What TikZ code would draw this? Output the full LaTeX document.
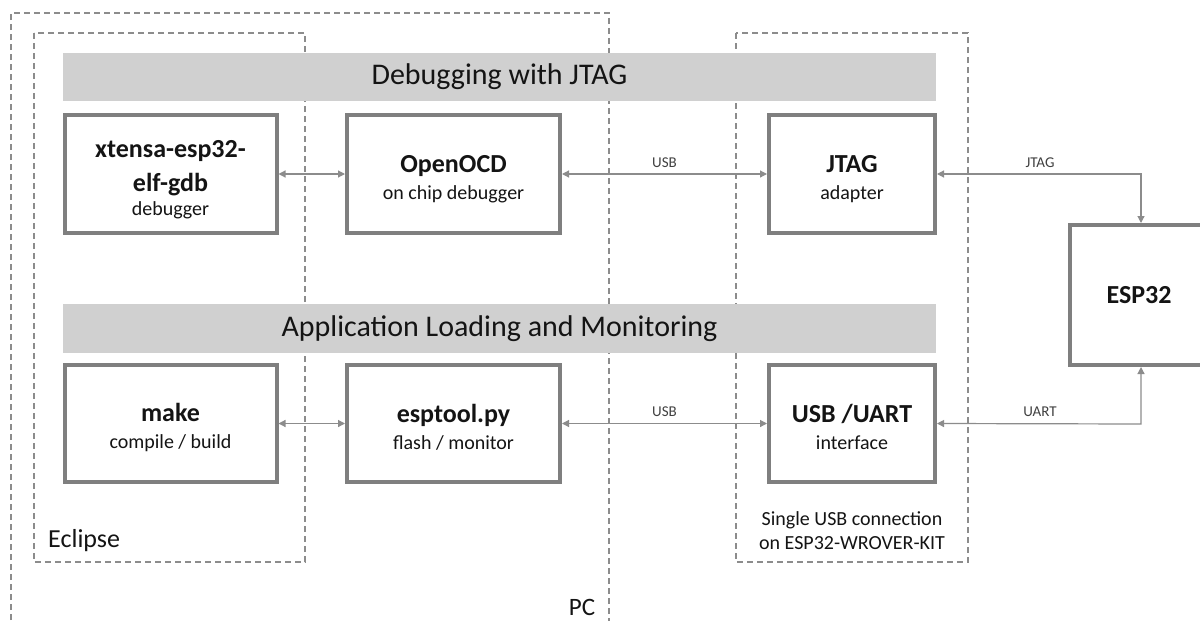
\documentclass[tikz,border=0pt]{standalone}
\usepackage{fontspec}
\setmainfont{Carlito}
\usetikzlibrary{arrows.meta}
\definecolor{boxgray}{HTML}{7F7F7F}
\definecolor{bargray}{HTML}{D0D0D0}
\definecolor{linegray}{HTML}{8C8C8C}
\definecolor{dashgray}{HTML}{8C8C8C}
\definecolor{txt}{HTML}{141414}
\definecolor{lbl}{HTML}{404040}
\newcommand{\ttl}[2][27]{{\fontsize{26}{28}\selectfont\bfseries\rule{0pt}{#1pt}#2}}
\newcommand{\ttlb}[1]{{\fontsize{26}{28}\selectfont\bfseries #1}}
\begin{document}
\begin{tikzpicture}[x=1pt,y=-1pt,
  blk/.style={draw=boxgray, line width=4pt, fill=white, inner sep=0pt,
    align=center, text=txt, font=\fontsize{20}{27}\selectfont},
  bar/.style={fill=bargray, draw=none, inner sep=0pt, text=txt,
    font=\fontsize{30}{34}\selectfont},
  grp/.style={draw=dashgray, line width=1.2pt, dash pattern=on 6pt off 4pt},
  conn/.style={draw=linegray, line width=1.2pt,
    {Triangle[length=7pt,width=7pt]}-{Triangle[length=7pt,width=7pt]}},
  clbl/.style={text=lbl, font=\fontsize{15}{18}\selectfont, inner sep=0pt},
  grplbl/.style={text=txt, inner sep=0pt}
]
\useasboundingbox (0,0) rectangle (1200,621);
\clip (0,0) rectangle (1200,621);
\fill[white] (0,0) rectangle (1200,621);

% group frames
\draw[grp] (11,640) -- (11,13) -- (609,13) -- (609,640);
\draw[grp] (34,33) rectangle (305,562);
\draw[grp] (736,33) rectangle (968,562);

% bars
\node[bar, minimum width=873pt, minimum height=48pt] (bar1) at (499.5,77) {Debugging with JTAG};
\node[bar, minimum width=873pt, minimum height=49pt] (bar2) at (499.5,328.5) {Application Loading and Monitoring};

% boxes
\node[blk, minimum width=212pt, minimum height=118pt] (gdb) at (170.5,174) {\ttl[29]{xtensa-esp32-}\\[7pt]\ttlb{elf-gdb}\\[-3pt]debugger};
\node[blk, minimum width=213pt, minimum height=118pt] (ocd) at (453.5,174) {\ttl{OpenOCD}\\on chip debugger};
\node[blk, minimum width=166pt, minimum height=118pt] (jtag) at (852,174) {\ttl{JTAG}\\adapter};
\node[blk, minimum width=212pt, minimum height=117pt] (make) at (170.5,423.5) {\ttl[26]{make}\\compile / build};
\node[blk, minimum width=213pt, minimum height=117pt] (esptool) at (453.5,423.5) {\ttl[26]{esptool.py}\\flash / monitor};
\node[blk, minimum width=166pt, minimum height=117pt] (uart) at (852,423.5) {\ttl[26]{USB /UART}\\interface};
\node[blk, minimum width=138pt, minimum height=140pt] (esp) at (1139,295) {\fontsize{26}{30}\selectfont\bfseries ESP32};

% connectors
\draw[conn] (gdb.east) -- (ocd.west);
\draw[conn] (ocd.east) -- node[clbl, pos=0.5, yshift=11pt] (usb1) {USB} (jtag.west);
\draw[conn] (make.east) -- (esptool.west);
\draw[conn] (esptool.east) -- node[clbl, pos=0.5, yshift=12pt] (usb2) {USB} (uart.west);
\draw[conn] (jtag.east) -- (1141,174) coordinate (c1) -- (esp.north -| c1);
\draw[conn] (uart.east) -- (1141,424) coordinate (c2) -- (esp.south -| c2);
\node[clbl] (jtaglbl) at (1040,163) {JTAG};
\node[clbl] (uartlbl) at (1040,412) {UART};

% group labels
\node[grplbl, anchor=west, font=\fontsize{26}{30}\selectfont] (eclipse) at (48,541) {Eclipse};
\node[grplbl, font=\fontsize{25}{30}\selectfont] (pc) at (582,607) {PC};
\node[grplbl, align=center, font=\fontsize{20}{24}\selectfont] (kit) at (852,531) {Single USB connection\\on ESP32-WROVER-KIT};
\end{tikzpicture}
\end{document}
